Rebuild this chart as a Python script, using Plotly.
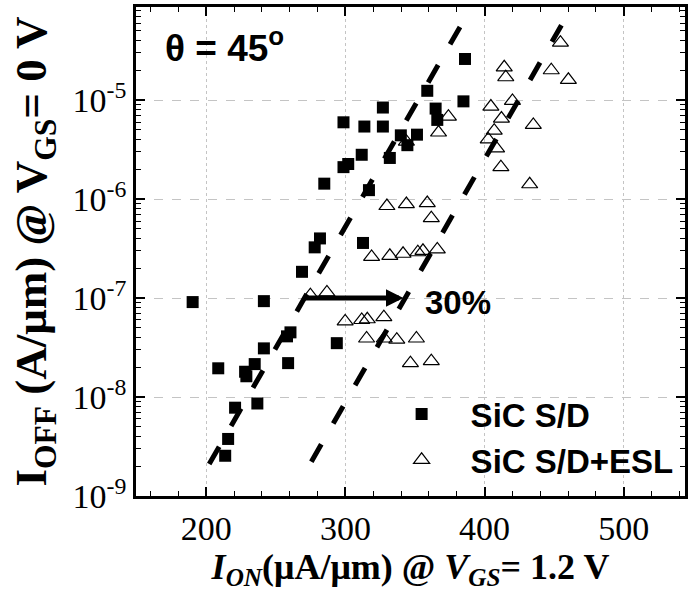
import plotly.graph_objects as go

# SiC S/D (filled squares)
sq_x = [190.2, 208.6, 213.6, 215.7, 220.7, 227.9, 228.8, 234.8, 236.7, 241.4,
        241.4, 258.0, 260.5, 258.8, 268.8, 277.9, 281.7, 284.8, 293.8, 298.6,
        302.0, 298.6, 311.7, 312.6, 313.6, 316.9, 326.9, 326.9, 331.9, 339.8,
        344.5, 351.4, 358.8, 364.8, 366.0, 384.8, 385.9]
sq_y = [9.1e-8, 1.95e-8, 2.55e-9, 3.77e-9, 7.8e-9, 1.8e-8, 1.62e-8, 2.15e-8, 8.6e-9, 3.1e-8,
        9.3e-8, 4.1e-8, 4.5e-8, 2.2e-8, 1.84e-7, 3.25e-7, 4.0e-7, 1.43e-6, 3.5e-8, 2.1e-6,
        2.26e-6, 5.96e-6, 2.8e-6, 3.6e-7, 5.4e-6, 1.23e-6, 8.4e-6, 5.4e-6, 2.6e-6, 4.4e-6,
        3.5e-6, 4.47e-6, 1.24e-5, 8.2e-6, 6.3e-6, 9.7e-6, 2.6e-5]

# SiC S/D+ESL (open triangles)
tri_x = [274.8, 286.7, 299.8, 311.7, 315.7, 327.6, 315.2, 327.9, 336.9, 351.0,
         346.7, 361.7, 318.8, 331.9, 341.4, 352.0, 355.7, 366.0, 329.8, 343.8,
         358.8, 361.7, 343.8, 366.9, 374.0, 402.6, 404.5, 406.9, 408.6, 411.7,
         412.1, 414.1, 415.2, 420.0, 432.4, 435.0, 447.9, 454.5, 460.2]
tri_y = [1.07e-7, 1.14e-7, 5.8e-8, 6.0e-8, 6.1e-8, 6.4e-8, 3.9e-8, 3.9e-8, 3.8e-8, 3.9e-8,
         2.2e-8, 2.3e-8, 2.6e-7, 2.67e-7, 2.8e-7, 2.9e-7, 3.0e-7, 3.1e-7, 8.5e-7, 8.9e-7,
         9.1e-7, 6.4e-7, 3.8e-6, 4.7e-6, 6.8e-6, 4.0e-6, 8.6e-6, 4.9e-6, 3.25e-6, 2.1e-6,
         6.5e-6, 2.14e-5, 1.7e-5, 9.8e-6, 1.41e-6, 5.6e-6, 2.0e-5, 3.8e-5, 1.6e-5]

# Guide lines (dashed trend lines)
line1_x = [202.1, 382.4]
line1_y = [2.1e-9, 5.5e-5]
line2_x = [275.5, 455.2]
line2_y = [2.22e-9, 5.7e-5]

# 30 % shift arrow
arrow_x = [268.8, 341.7]
arrow_logy = -7.0

x_range = [149.5, 544.0]
y_range_log = [-9.0, -4.06]
x_ticks = [200, 300, 400, 500]
y_ticks = [1e-9, 1e-8, 1e-7, 1e-6, 1e-5]
y_ticktext = ["10<sup>-9</sup>", "10<sup>-8</sup>", "10<sup>-7</sup>", "10<sup>-6</sup>", "10<sup>-5</sup>"]

serif = "Liberation Serif"
sans = "Liberation Sans"

fig = go.Figure()
fig.add_trace(go.Scatter(
    x=sq_x, y=sq_y, mode="markers", name="<b>SiC S/D</b>",
    marker=dict(symbol="square", size=12, color="black", line=dict(width=0)),
))
fig.add_trace(go.Scatter(
    x=tri_x, y=tri_y, mode="markers", name="<b>SiC S/D+ESL</b>",
    marker=dict(symbol="triangle-up-open", size=14, color="black", line=dict(width=1.2)),
))
for lx, ly in ((line1_x, line1_y), (line2_x, line2_y)):
    fig.add_trace(go.Scatter(
        x=lx, y=ly, mode="lines", showlegend=False, hoverinfo="skip",
        line=dict(color="black", width=5, dash="20px,24px"),
    ))

fig.add_annotation(
    x=arrow_x[1], y=arrow_logy, ax=arrow_x[0], ay=arrow_logy,
    xref="x", yref="y", axref="x", ayref="y", text="",
    showarrow=True, arrowhead=2, arrowsize=0.7, arrowwidth=5, arrowcolor="black",
    standoff=0, startstandoff=0,
)
fig.add_annotation(
    x=355.7, y=-7.05, xref="x", yref="y", text="<b>30%</b>", showarrow=False,
    xanchor="left", yanchor="middle",
    font=dict(family=sans, size=33, color="black"),
)
fig.add_annotation(
    x=168.6, y=-4.444, xref="x", yref="y", text="<b>θ = 45<sup>o</sup></b>",
    showarrow=False, xanchor="left", yanchor="middle",
    font=dict(family=sans, size=37, color="black"),
)

axis_common = dict(
    showline=True, linecolor="black", linewidth=2.5, mirror="ticks",
    ticks="inside", tickcolor="black", tickwidth=1.5, ticklen=9,
    tickfont=dict(family=serif, size=34, color="black"),
    showgrid=True, gridcolor="#c4c4c4", gridwidth=1, zeroline=False,
)

fig.update_xaxes(
    **axis_common, range=x_range, tickvals=x_ticks, griddash="dot",
    minor=dict(ticks="inside", ticklen=5, tickwidth=1.2, tickcolor="black", dtick=20, showgrid=False),
    title=dict(text="<b><i>I</i><sub><i>ON</i></sub>(μA/μm) @ <i>V</i><sub><i>GS</i></sub>= 1.2 V</b>",
               font=dict(family=serif, size=36, color="black"), standoff=6),
)
fig.update_yaxes(
    **axis_common, type="log", range=y_range_log, tickvals=y_ticks, ticktext=y_ticktext,
    griddash="dash",
    minor=dict(ticks="inside", ticklen=5, tickwidth=1.2, tickcolor="black", dtick="D1", showgrid=False),
    title=dict(text="<b>I<sub>OFF</sub> (A/μm) @ V<sub>GS</sub>= 0 V</b>",
               font=dict(family=serif, size=45, color="black"), standoff=12),
)

fig.update_layout(
    width=691, height=594,
    margin=dict(l=136, r=3, t=7, b=98),
    paper_bgcolor="white", plot_bgcolor="white",
    showlegend=True,
    legend=dict(x=0.431, y=0.225, xanchor="left", yanchor="top",
                font=dict(family=sans, size=33, color="black"),
                bgcolor="rgba(0,0,0,0)", borderwidth=0, itemwidth=88,
                tracegroupgap=0),
)

fig.write_html("out.html")
